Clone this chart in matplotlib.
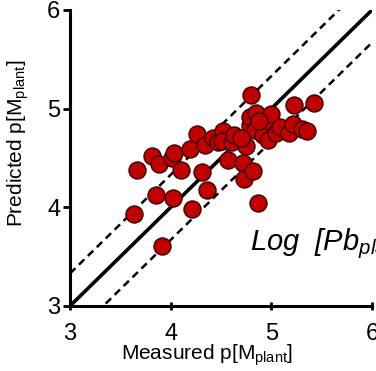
import numpy as np
import matplotlib
matplotlib.use("Agg")
import matplotlib.pyplot as plt

plt.rcParams["font.family"] = ["Liberation Sans", "DejaVu Sans"]
plt.rcParams["mathtext.fontset"] = "custom"
plt.rcParams["mathtext.rm"] = "Liberation Sans"
plt.rcParams["mathtext.it"] = "Liberation Sans:italic"

# measured vs predicted p[M_plant]
measured = [3.64, 3.67, 3.81, 3.85, 3.88, 3.91, 4.01, 4.03, 4.02, 4.10,
            4.19, 4.21, 4.26, 4.31, 4.34, 4.36, 4.42, 4.47, 4.52, 4.51,
            4.57, 4.61, 4.72, 4.73, 4.75, 4.79, 4.79, 4.80, 4.82, 4.84,
            4.85, 4.87, 4.92, 4.97, 4.99, 5.00, 5.05, 5.09, 5.18, 5.22,
            5.23, 5.30, 5.35, 5.42, 4.63, 4.70, 4.88]
predicted = [3.93, 4.38, 4.52, 4.12, 4.44, 3.61, 4.50, 4.55, 4.09, 4.38,
             4.59, 3.98, 4.74, 4.36, 4.63, 4.18, 4.70, 4.66, 4.77, 4.67,
             4.48, 4.66, 4.45, 4.29, 4.62, 4.83, 4.92, 5.14, 4.37, 4.78,
             4.96, 4.04, 4.73, 4.68, 4.86, 4.95, 4.75, 4.81, 4.75, 4.84,
             5.04, 4.79, 4.77, 5.06, 4.73, 4.70, 4.88]

band = 0.33  # dashed lines: y = x +/- band
ticks = [3, 4, 5, 6]

fig = plt.figure(figsize=(3.76, 3.71), dpi=100)
ax = fig.add_axes([70 / 376, 65 / 371, 302 / 376, 296 / 371])

line_x = np.array([3.0, 6.0])
ax.plot(line_x, line_x, color="black", lw=2.6, zorder=1)
ax.plot(line_x, line_x + band, color="black", lw=1.8, ls=(0, (3, 2)), zorder=1)
ax.plot(line_x, line_x - band, color="black", lw=1.8, ls=(0, (3, 2)), zorder=1)

ax.scatter(measured, predicted, s=150, color="#c00000", edgecolor="#3a0000",
           linewidth=1.0, zorder=3)

ax.set_xlim(3, 6)
ax.set_ylim(3, 6)
ax.set_xticks(ticks)
ax.set_yticks(ticks)
for side in ("top", "right"):
    ax.spines[side].set_visible(False)
for side in ("left", "bottom"):
    ax.spines[side].set_linewidth(2.2)
ax.tick_params(axis="y", direction="out", length=5, width=2, labelsize=17, pad=2)
ax.tick_params(axis="x", direction="inout", length=6, width=2, labelsize=17, pad=9)

ax.set_xlabel(r"Measured p[M$_{\rm plant}$]", fontsize=15)
ax.set_ylabel(r"Predicted p[M$_{\rm plant}$]", fontsize=15)
ax.xaxis.set_label_coords(0.455, -0.125)
ax.yaxis.set_label_coords(-0.13, 0.55)

fig.text(250 / 376, 1 - 250 / 371, r"Log  [Pb$_{plant}$]", fontsize=21,
         fontstyle="italic", va="baseline", ha="left")

fig.savefig("out.png", dpi=100)
